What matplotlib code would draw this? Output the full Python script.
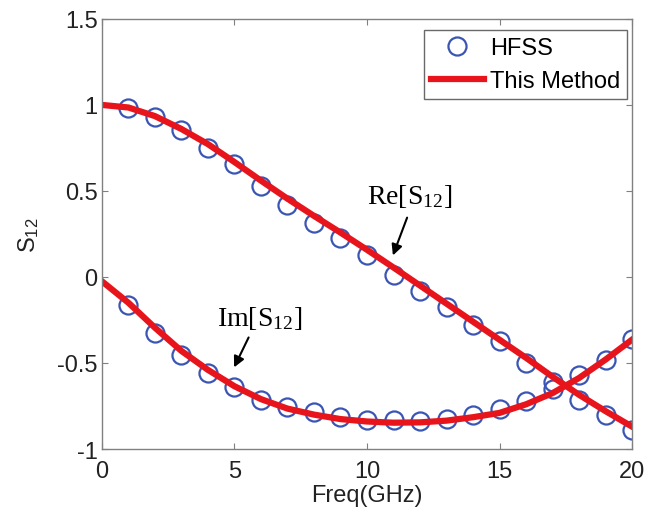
import matplotlib
matplotlib.use('Agg')
import matplotlib.pyplot as plt
import numpy as np

plt.rcParams['font.family'] = ['Liberation Sans', 'DejaVu Sans']
plt.rcParams['mathtext.fontset'] = 'custom'
plt.rcParams['mathtext.rm'] = 'Liberation Sans'
plt.rcParams['mathtext.it'] = 'Liberation Sans'

# HFSS 仿真点
freq_hfss = [1, 2, 3, 4, 5, 6, 7, 8, 9, 10, 11, 12, 13, 14, 15, 16, 17, 18, 19, 20]
re_hfss = [0.98, 0.928, 0.852, 0.748, 0.657, 0.527, 0.42, 0.314, 0.227, 0.13,
           0.013, -0.083, -0.176, -0.277, -0.372, -0.50, -0.61, -0.713, -0.80, -0.888]
im_hfss = [-0.165, -0.328, -0.455, -0.558, -0.641, -0.713, -0.755, -0.785, -0.812, -0.83,
           -0.833, -0.835, -0.825, -0.80, -0.77, -0.718, -0.65, -0.568, -0.48, -0.359]

# 本方法曲线
freq_line = [0, 1, 2, 3, 4, 5, 6, 7, 8, 9, 10, 11, 12, 13, 14, 15, 16, 17, 18, 19, 20]
re_line = [1.0, 0.985, 0.935, 0.86, 0.772, 0.668, 0.56, 0.455, 0.355, 0.258, 0.158,
           0.055, -0.05, -0.155, -0.26, -0.365, -0.47, -0.58, -0.685, -0.78, -0.87]
im_line = [-0.025, -0.15, -0.295, -0.43, -0.54, -0.635, -0.71, -0.765, -0.80, -0.826, -0.84,
           -0.847, -0.845, -0.835, -0.815, -0.79, -0.74, -0.675, -0.587, -0.48, -0.364]

blue = '#3a55b4'
red = '#e8141c'

fig = plt.figure(figsize=(6.45, 5.1), dpi=100)
ax = fig.add_axes([0.158, 0.1176, 0.822, 0.8434])

ax.plot(freq_hfss, re_hfss, 'o', mfc='none', mec=blue, mew=1.6, ms=13, label='HFSS')
ax.plot(freq_hfss, im_hfss, 'o', mfc='none', mec=blue, mew=1.6, ms=13)
ax.plot(freq_line, re_line, '-', color=red, lw=4.5, label='This Method')
ax.plot(freq_line, im_line, '-', color=red, lw=4.5)

ax.set_xlim(0, 20)
ax.set_ylim(-1, 1.5)
ax.set_xticks([0, 5, 10, 15, 20])
ax.set_yticks([-1, -0.5, 0, 0.5, 1, 1.5])
ax.set_yticklabels(['-1', '-0.5', '0', '0.5', '1', '1.5'])
ax.tick_params(direction='in', length=4, width=0.8, colors='#808080',
               labelcolor='#222222', labelsize=17, top=True, right=True)
ax.tick_params(axis='x', pad=8)
ax.tick_params(axis='y', pad=3)
for sp in ax.spines.values():
    sp.set_color('#808080')
    sp.set_linewidth(1.0)

ax.set_xlabel('Freq(GHz)', fontsize=17, color='#222222', labelpad=1)
ax.set_ylabel('S$_{12}$', fontsize=17, color='#222222', labelpad=12)

# 标注
serif = ['Liberation Serif', 'DejaVu Serif']
ax.text(11.62, 0.475, 'Re[S$_{\\mathregular{12}}$]', fontsize=20, family=serif,
        ha='center', va='center', math_fontfamily='stix')
ax.annotate('', xy=(10.94, 0.11), xytext=(11.55, 0.36),
            arrowprops=dict(arrowstyle='-|>', color='k', lw=1.5, mutation_scale=16))
ax.text(5.96, -0.235, 'Im[S$_{\\mathregular{12}}$]', fontsize=20, family=serif,
        ha='center', va='center', math_fontfamily='stix')
ax.annotate('', xy=(4.94, -0.54), xytext=(5.58, -0.337),
            arrowprops=dict(arrowstyle='-|>', color='k', lw=1.5, mutation_scale=16))

leg = ax.legend(loc='upper right', bbox_to_anchor=(0.9906, 0.974), borderaxespad=0,
                fontsize=17, fancybox=False, edgecolor='#444444', handlelength=2.25,
                borderpad=0.3, labelspacing=0.45, handletextpad=0.25)
leg.get_frame().set_linewidth(1.0)

fig.savefig('out.png', dpi=100)
